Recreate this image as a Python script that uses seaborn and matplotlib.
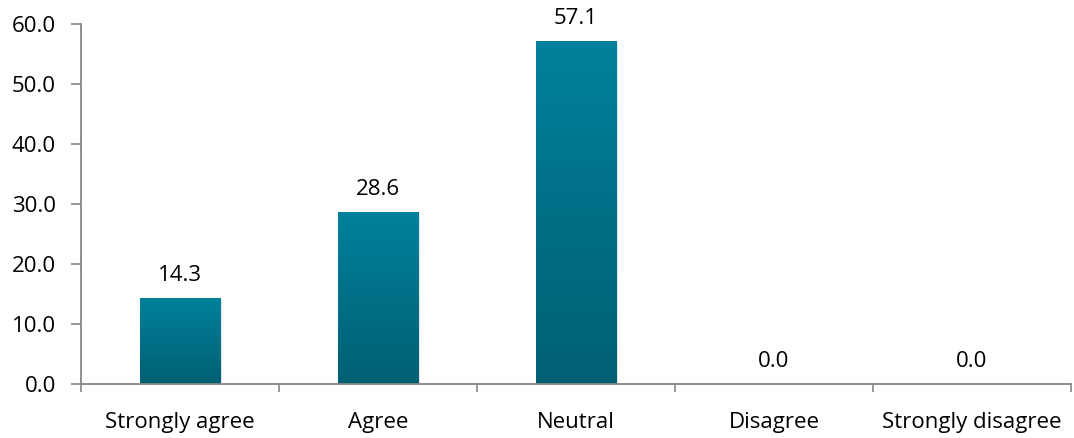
import numpy as np
import pandas as pd
import matplotlib
matplotlib.use("Agg")
import matplotlib.pyplot as plt
import seaborn as sns
from matplotlib.colors import LinearSegmentedColormap

categories = ["Strongly agree", "Agree", "Neutral", "Disagree", "Strongly disagree"]
values = [14.3, 28.6, 57.1, 0.0, 0.0]
yticks = [0, 10, 20, 30, 40, 50, 60]

sns.set_theme(style="white")
plt.rcParams["font.family"] = ["Open Sans", "DejaVu Sans"]

FS = 16

df = pd.DataFrame({"category": categories, "value": values})

fig = plt.figure(figsize=(10.74, 4.38), dpi=100)
ax = fig.add_axes([81 / 1074, 1 - 384 / 438, 990 / 1074, 360 / 438])

sns.barplot(data=df, x="category", y="value", color="#007b93", width=0.405,
            ax=ax, saturation=1)

# vertical gradient fill inside each bar
cmap = LinearSegmentedColormap.from_list("teal", ["#005f73", "#00819b"])
grad = np.linspace(0, 1, 256).reshape(-1, 1)
for patch in list(ax.patches):
    x0, y0 = patch.get_x(), patch.get_y()
    w, h = patch.get_width(), patch.get_height()
    if h > 0:
        # soft shadow
        ax.add_patch(plt.Rectangle((x0 + 0.012, y0), w, h - 0.25, facecolor="#000000",
                                   alpha=0.12, edgecolor="none", zorder=1))
        im = ax.imshow(grad, extent=[x0, x0 + w, y0, y0 + h], origin="lower",
                       cmap=cmap, aspect="auto", zorder=2)
        im.set_clip_path(patch)
        patch.set_zorder(2)
        patch.set_facecolor("none")
    ax.text(x0 + w / 2, h + 2.0, f"{h:.1f}", ha="center", va="bottom",
            fontsize=FS, color="#000000")

ax.set_xlim(-0.5, 4.5)
ax.set_ylim(0, 60)
ax.set_yticks(yticks)
ax.set_yticklabels([f"{v:.1f}" for v in yticks])
ax.set_xlabel("")
ax.set_ylabel("")

ax.set_xticks(np.arange(-0.5, 5, 1), minor=True)
ax.tick_params(axis="x", which="major", length=0, pad=20, labelsize=FS,
               labelcolor="#000000")
ax.tick_params(axis="x", which="minor", length=6, width=1.2, color="#868686",
               direction="out", bottom=True)
ax.tick_params(axis="y", which="major", length=7, width=1.2, color="#868686",
               direction="out", left=True, labelsize=FS, labelcolor="#000000", pad=11)

for side in ["top", "right"]:
    ax.spines[side].set_visible(False)
for side in ["left", "bottom"]:
    ax.spines[side].set_color("#868686")
    ax.spines[side].set_linewidth(1.3)

fig.savefig("out.png", dpi=100)
